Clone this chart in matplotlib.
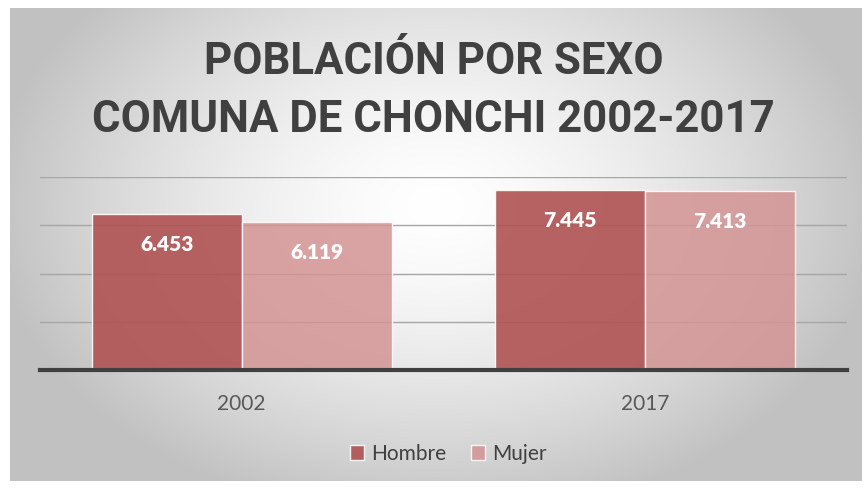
import numpy as np
import matplotlib
matplotlib.use("Agg")
import matplotlib.pyplot as plt

years = ["2002", "2017"]
hombre = [6453, 7445]
mujer = [6119, 7413]
series_names = ["Hombre", "Mujer"]
title = "POBLACIÓN POR SEXO\nCOMUNA DE CHONCHI 2002-2017"

FONT = "Lato"
W, H = 867, 488
fig = plt.figure(figsize=(W/100, H/100), dpi=100)
fig.patch.set_facecolor("white")

# background gradient
bx0, by0, bx1, by1 = 10, 8, 862, 481
bg = fig.add_axes([bx0/W, 1-by1/H, (bx1-bx0)/W, (by1-by0)/H])
yy, xx = np.mgrid[0:1:300j, 0:1:600j]
r = np.sqrt(((xx-0.5)/0.55)**2 + ((yy-0.42)/0.7)**2)
val = 1 - 0.26*np.clip(r, 0, 1.3)**1.5
val = np.clip(val, 0.76, 1.0)
img = np.dstack([val, val, val])
bg.imshow(img, aspect="auto", extent=[0, 1, 0, 1], interpolation="bilinear")
bg.set_axis_off()

# main axes
px0, px1, py_top, py_bot = 40, 847, 177, 370
ax = fig.add_axes([px0/W, 1-py_bot/H, (px1-px0)/W, (py_bot-py_top)/H])
ax.set_facecolor("none")
x = np.arange(len(years))
bw = 0.372
c_h = "#b05252"
c_m = "#d49494"
b1 = ax.bar(x - bw/2, hombre, bw, color=c_h, alpha=0.9, edgecolor=(1, 1, 1, 0.6), linewidth=1, zorder=3, label=series_names[0])
b2 = ax.bar(x + bw/2, mujer, bw, color=c_m, alpha=0.85, edgecolor=(1, 1, 1, 0.6), linewidth=1, zorder=3, label=series_names[1])
ax.set_xlim(-0.5, 1.5)
ax.set_ylim(0, 8000)
ax.set_yticks([2000, 4000, 6000, 8000])
ax.yaxis.grid(True, color="#a6a6a6", linewidth=1, zorder=0)
ax.set_yticklabels([])
ax.tick_params(axis="y", length=0)
for s in ["top", "right", "left"]:
    ax.spines[s].set_visible(False)
ax.spines["bottom"].set_color("#404040")
ax.spines["bottom"].set_linewidth(3)
ax.spines["bottom"].set_zorder(4)
ax.set_xticks(x)
ax.set_xticklabels(years, fontsize=15, color="#595959", family=FONT)
ax.tick_params(axis="x", length=0, pad=17)

def fmt(v):
    return f"{v:,}".replace(",", ".")

for bars, vals in [(b1, hombre), (b2, mujer)]:
    for b, v in zip(bars, vals):
        ax.annotate(fmt(v), (b.get_x()+b.get_width()/2, v), xytext=(0, -15),
                    textcoords="offset points", ha="center", va="top",
                    color="white", fontsize=15, fontweight="heavy", family=FONT, zorder=5)

fig.text(0.5, 1-91/H, title, ha="center", va="center", fontsize=31.5, fontweight="bold",
         color="#404040", family="Roboto", linespacing=1.48)

leg = fig.legend(handles=[b1, b2], loc="center", bbox_to_anchor=(448/W, 1-454/H), ncol=2,
                 frameon=False, handlelength=0.7, handleheight=0.7,
                 handletextpad=0.3, columnspacing=1.2, prop={"family": FONT, "size": 15})
for t in leg.get_texts():
    t.set_color("#404040")

fig.savefig("out.png", dpi=100)
